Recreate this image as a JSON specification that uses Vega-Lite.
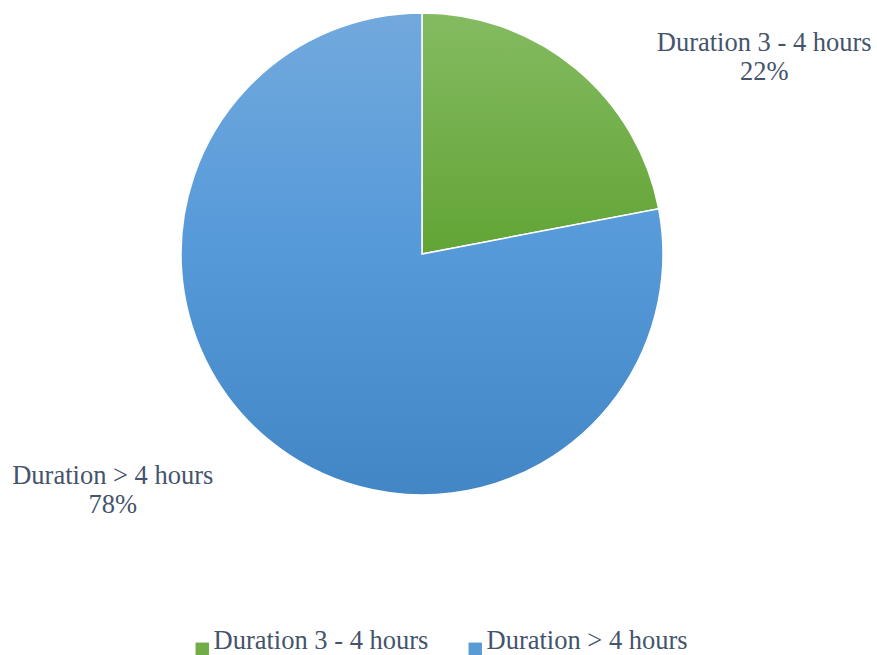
{
  "$schema": "https://vega.github.io/schema/vega-lite/v6.json",
  "width": 844,
  "height": 508,
  "autosize": {"type": "none"},
  "padding": {"left": 0, "top": 0, "right": 33, "bottom": 147},
  "background": "white",
  "config": {"view": {"stroke": null}, "font": "'Liberation Serif', 'DejaVu Serif', serif"},
  "data": {
    "values": [
      {"cat": "Duration 3 - 4 hours", "value": 22, "label": ["Duration 3 - 4 hours", "22%"]},
      {"cat": "Duration > 4 hours", "value": 78, "label": ["Duration > 4 hours", "78%"]}
    ]
  },
  "layer": [
    {
      "mark": {"type": "arc", "outerRadius": 241},
      "encoding": {
        "theta": {"field": "value", "type": "quantitative", "stack": true},
        "color": {
          "field": "cat",
          "type": "nominal",
          "scale": {"domain": ["Duration 3 - 4 hours", "Duration > 4 hours"], "range": ["#70AD47", "#5B9BD5"]},
          "legend": {
            "title": null,
            "orient": "none",
            "direction": "horizontal",
            "legendX": 189,
            "legendY": 636,
            "symbolType": "square",
            "symbolSize": 180,
            "symbolStrokeWidth": 0,
            "labelFont": "'Liberation Serif', 'DejaVu Serif', serif",
            "labelFontSize": 26.5,
            "labelColor": "#44546A",
            "labelOffset": -2,
            "labelLimit": 400,
            "columnPadding": 33,
            "labelBaseline": "alphabetic"
          }
        }
      }
    },
    {
      "mark": {"type": "arc", "outerRadius": 241, "stroke": "white", "strokeWidth": 1.5},
      "encoding": {
        "theta": {"field": "value", "type": "quantitative", "stack": true},
        "detail": {"field": "cat", "type": "nominal"},
        "fill": {
          "condition": {
            "test": "datum.cat === 'Duration 3 - 4 hours'",
            "value": {"gradient": "linear", "x1": 0, "y1": 0, "x2": 0, "y2": 1,
              "stops": [{"offset": 0, "color": "#84BB61"}, {"offset": 1, "color": "#62A435"}]}
          },
          "value": {"gradient": "linear", "x1": 0, "y1": 0, "x2": 0, "y2": 1,
            "stops": [{"offset": 0, "color": "#72A9DD"}, {"offset": 0.5, "color": "#5599D9"}, {"offset": 1, "color": "#4286C6"}]}
        }
      }
    },
    {
      "mark": {"type": "text", "radius": 300, "dx": 151, "dy": 20, "align": "center", "baseline": "middle",
        "fontSize": 26.5, "lineHeight": 29, "color": "#44546A", "font": "'Liberation Serif', 'DejaVu Serif', serif"},
      "encoding": {
        "theta": {"field": "value", "type": "quantitative", "stack": true},
        "detail": {"field": "cat", "type": "nominal"},
        "text": {"condition": {"test": "datum.cat === 'Duration 3 - 4 hours'", "field": "label"}, "value": ""}
      }
    },
    {
      "mark": {"type": "text", "radius": 300, "dx": -118, "dy": -9, "align": "center", "baseline": "middle",
        "fontSize": 26.5, "lineHeight": 29, "color": "#44546A", "font": "'Liberation Serif', 'DejaVu Serif', serif"},
      "encoding": {
        "theta": {"field": "value", "type": "quantitative", "stack": true},
        "detail": {"field": "cat", "type": "nominal"},
        "text": {"condition": {"test": "datum.cat === 'Duration > 4 hours'", "field": "label"}, "value": ""}
      }
    }
  ]
}
